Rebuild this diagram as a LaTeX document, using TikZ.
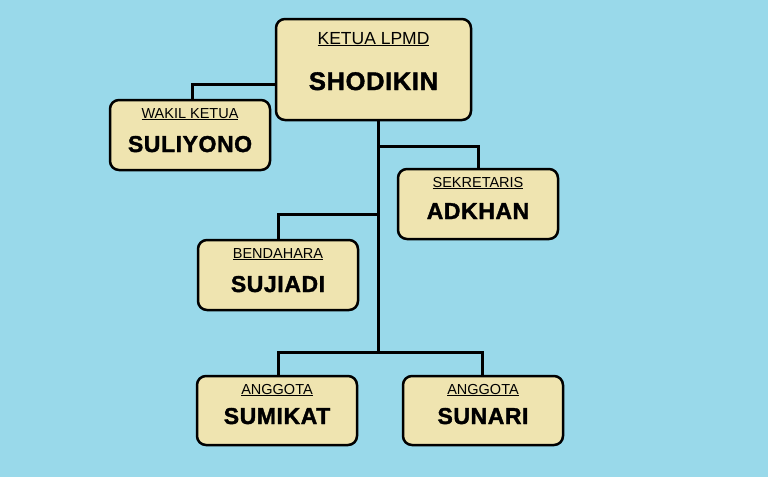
\documentclass[tikz,border=0pt]{standalone}
\usepackage{fontspec}
\setmainfont{Liberation Sans}
\newfontfamily\heavyfont[FakeBold=1.6,LetterSpace=2.5]{Liberation Sans Bold}
\definecolor{bg}{HTML}{99D9EA}
\definecolor{boxfill}{HTML}{EFE4B0}
\tikzset{
  orgbox/.style={draw=black, fill=boxfill, line width=2.5pt, rounded corners=9pt, inner sep=0pt},
  conn/.style={draw=black, line width=3pt},
  toplabel/.style={anchor=base, inner sep=0pt, font=\fontsize{17.5}{20}\selectfont},
  topperson/.style={anchor=base, inner sep=0pt, font=\heavyfont\fontsize{25.5}{28}\selectfont},
  rolelabel/.style={anchor=base, inner sep=0pt, font=\fontsize{14.5}{17}\selectfont},
  person/.style={anchor=base, inner sep=0pt, font=\heavyfont\fontsize{23}{26}\selectfont},
}
\newcommand\ulab[1]{\underline{#1}}
\begin{document}
\begin{tikzpicture}[x=1pt,y=-1pt]
\fill[bg] (0,0) rectangle (768,477);
\useasboundingbox (0,0) rectangle (768,477);

% boxes
\node[orgbox, minimum width=195pt, minimum height=101pt] (ketua) at (373.5,69.5) {};
\node[orgbox, minimum width=160pt, minimum height=70pt] (wakil) at (190,135) {};
\node[orgbox, minimum width=160pt, minimum height=70pt] (sek) at (478,204) {};
\node[orgbox, minimum width=160pt, minimum height=70pt] (ben) at (278,275) {};
\node[orgbox, minimum width=160pt, minimum height=69pt] (sum) at (277,410.5) {};
\node[orgbox, minimum width=160pt, minimum height=69pt] (sun) at (483,410.5) {};

% connectors
\coordinate (trunktop) at ([xshift=4.5pt]ketua.south);
\coordinate (jsek) at (378,146);
\coordinate (jben) at (378,214);
\coordinate (trunkbot) at (378,352);
\draw[conn] ([yshift=-14.5pt]ketua.west) -| ([xshift=2pt]wakil.north);
\draw[conn] (trunktop) -- (trunkbot);
\draw[conn] (jsek) -| (sek.north);
\draw[conn] (jben) -| (ben.north);
\draw[conn] ([xshift=1pt]sum.north) |- (trunkbot) -| ([xshift=-1pt]sun.north);

% texts
\node[toplabel] (tKetua) at (373.5,44) {\ulab{KETUA LPMD}};
\node[topperson] (nKetua) at (373.5,90) {SHODIKIN};
\node[rolelabel] (tWakil) at (190,118) {\ulab{WAKIL KETUA}};
\node[person] (nWakil) at (190,152) {SULIYONO};
\node[rolelabel] (tSek) at (478,187) {\ulab{SEKRETARIS}};
\node[person] (nSek) at (478,219) {ADKHAN};
\node[rolelabel] (tBen) at (278,258) {\ulab{BENDAHARA}};
\node[person] (nBen) at (278,292) {SUJIADI};
\node[rolelabel] (tSum) at (277,394) {\ulab{ANGGOTA}};
\node[person] (nSum) at (277,424) {SUMIKAT};
\node[rolelabel] (tSun) at (483,394) {\ulab{ANGGOTA}};
\node[person] (nSun) at (483,424) {SUNARI};
\end{tikzpicture}
\end{document}
